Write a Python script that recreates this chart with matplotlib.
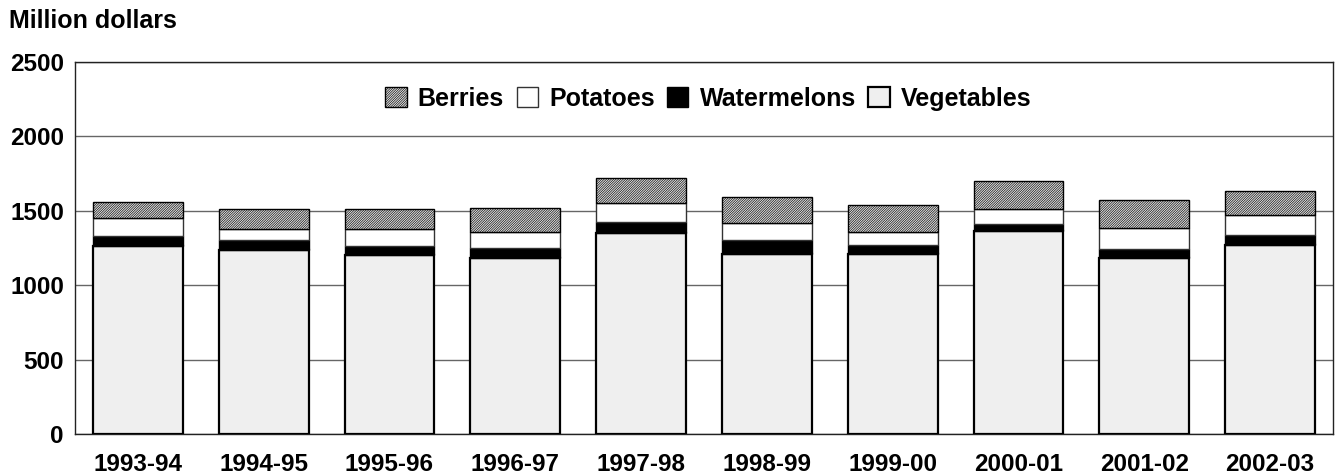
import matplotlib
matplotlib.use("Agg")
import matplotlib.pyplot as plt
import numpy as np

plt.rcParams['font.family'] = ['Liberation Sans', 'DejaVu Sans']
plt.rcParams['hatch.color'] = '#888888'
plt.rcParams['hatch.linewidth'] = 0.45

years = ["1993-94", "1994-95", "1995-96", "1996-97", "1997-98",
         "1998-99", "1999-00", "2000-01", "2001-02", "2002-03"]
vegetables = [1263, 1235, 1203, 1181, 1353, 1210, 1210, 1364, 1181, 1270]
watermelons = [68, 67, 60, 67, 70, 92, 58, 47, 64, 67]
potatoes = [119, 74, 117, 110, 127, 116, 90, 99, 142, 133]
berries = [111, 134, 130, 163, 173, 173, 181, 190, 184, 161]

fig = plt.figure(figsize=(13.36, 4.74), dpi=100)
ax = fig.add_axes([75/1336, 40/474, (1333-75)/1336, (434-62)/474])

x = np.arange(len(years))
w = 0.715
veg = np.array(vegetables)
wm = np.array(watermelons)
pot = np.array(potatoes)
ber = np.array(berries)

ax.bar(x, veg, w, color='#efefef', edgecolor='black', linewidth=1.6, zorder=3, label='Vegetables')
ax.bar(x, wm, w, bottom=veg, color='black', edgecolor='black', linewidth=1.0, zorder=3, label='Watermelons')
ax.bar(x, pot, w, bottom=veg + wm, color='white', edgecolor='#333333', linewidth=1.0, zorder=3, label='Potatoes')
ax.bar(x, ber, w, bottom=veg + wm + pot, color='#e2e2e2', edgecolor='black', linewidth=1.0,
       hatch='/' * 14, zorder=3, label='Berries')

ax.set_xlim(-0.5, len(years) - 0.5)
ax.set_ylim(0, 2500)
ax.set_yticks([0, 500, 1000, 1500, 2000, 2500])
ax.set_xticks(x)
ax.set_xticklabels(years)
ax.tick_params(axis='both', length=0, labelsize=17.5)
ax.tick_params(axis='x', pad=14)
ax.tick_params(axis='y', pad=8)
for lab in ax.get_xticklabels() + ax.get_yticklabels():
    lab.set_fontweight('bold')
ax.yaxis.grid(True, color='#666666', linewidth=1.0, zorder=0)
ax.set_axisbelow(True)
for s in ax.spines.values():
    s.set_color('#222222')
    s.set_linewidth(1.0)

handles, labels = ax.get_legend_handles_labels()
order = [3, 2, 1, 0]
leg = ax.legend([handles[i] for i in order], [labels[i] for i in order],
                loc='center', bbox_to_anchor=(0.5035, 1 - 37/372), ncol=4, frameon=False,
                prop={'weight': 'bold', 'size': 18}, handlelength=0.85, handleheight=0.85,
                handletextpad=0.45, columnspacing=0.5, borderpad=0.0)

fig.text(9/1336, 1 - 21/474, "Million dollars", fontsize=18, fontweight='bold', va='center', ha='left')

fig.savefig("out.png", dpi=100)
